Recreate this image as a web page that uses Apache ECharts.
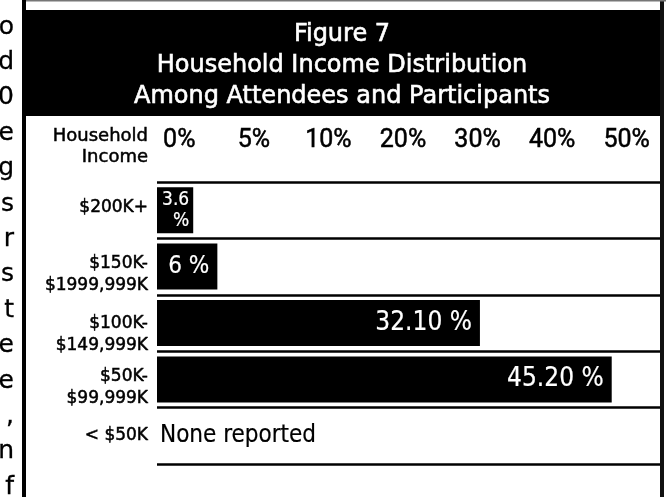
<!DOCTYPE html>
<html>
<head>
<meta charset="utf-8">
<script src="https://cdn.jsdelivr.net/npm/echarts@6/dist/echarts.min.js"></script>
<style>
html,body{margin:0;padding:0;background:#fff;}
#chart{width:666px;height:497px;}
</style>
</head>
<body>
<div id="chart"></div>
<script>
// ---- data ----
const categories = ['$200K+', '$150K-\n$1999,999K', '$100K-\n$149,999K', '$50K-\n$99,999K', '< $50K'];
const values = [3.6, 6, 32.1, 45.2, 0];
const valueLabels = ['3.6\n%', '6 %', '32.10 %', '45.20 %', 'None reported'];
const tickLabels = ['0%', '5%', '10%', '20%', '30%', '40%', '50%'];
const titleLines = ['Figure 7', 'Household Income Distribution', 'Among Attendees and Participants'];
const headerText = 'Household\nIncome';
const sideLetters = ['o', 'd', '0', 'e', 'g', 's', 'r', 's', 't', 'e', 'e', ',', 'n', 'f'];

const chart = echarts.init(document.getElementById('chart'), null, {renderer: 'canvas'});

const labelFont = 'DejaVu Sans Condensed, DejaVu Sans, sans-serif';
const labelSizes = [19, 24, 26, 26, 24];
const labelShift = [-3, 8, 12, 8, 0];   // vertical nudges of category labels (layout only)
const BW = 0.5; // slight emboldening stroke

const seriesData = values.map((v, i) => ({
  value: v,
  label: i === values.length - 1 ? {
    show: true, position: 'right', distance: 3, color: '#000',
    textBorderColor: '#000', textBorderWidth: 0.2,
    fontSize: labelSizes[i], formatter: valueLabels[i]
  } : {
    show: true, position: 'insideRight', distance: i === 0 ? 4 : 8, color: '#fff',
    textBorderColor: '#fff', textBorderWidth: 0.2,
    fontSize: labelSizes[i], lineHeight: 21, align: 'right', formatter: valueLabels[i]
  }
}));

const baseRich = {color: '#000', fontSize: 17, lineHeight: 22, fontFamily: 'DejaVu Sans',
                  textBorderColor: '#000', textBorderWidth: BW, align: 'right'};
const rich = {};
labelShift.forEach((d, i) => {
  rich['p' + i] = Object.assign({}, baseRich, {
    padding: d >= 0 ? [d * 2, 0, 0, 0] : [0, 0, -d * 2, 0]
  });
});

const graphics = [
  {type: 'rect', shape: {x: 26, y: 10, width: 636, height: 106}, style: {fill: '#000'}, z: 0},
  {type: 'rect', shape: {x: 22, y: 0, width: 4, height: 497}, style: {fill: '#000'}, z: 0},
  {type: 'rect', shape: {x: 660, y: 0, width: 4, height: 497}, style: {fill: '#111'}, z: 0},
  {type: 'rect', shape: {x: 26, y: 0, width: 640, height: 1.5}, style: {fill: '#777'}, z: 0}
];
sideLetters.forEach((ch, i) => {
  graphics.push({
    type: 'text', x: 14, y: 35 + i * 35.4 - 8,
    style: {text: ch, fontSize: 25, fontFamily: 'DejaVu Sans', fill: '#000',
            stroke: '#000', lineWidth: 0.3, align: 'right', verticalAlign: 'middle'}
  });
});

chart.setOption({
  backgroundColor: '#fff',
  animation: false,
  title: {
    text: titleLines.join('\n'),
    left: 342, top: 19, padding: 0, textAlign: 'center',
    textStyle: {color: '#fff', fontSize: 24, fontWeight: 'normal', fontFamily: 'DejaVu Sans', lineHeight: 31,
                textBorderColor: '#fff', textBorderWidth: 0.6}
  },
  graphic: graphics,
  grid: [
    {left: 157, width: 503, top: 182, height: 282, containLabel: false},
    {left: 142, width: 522, top: 182, height: 282, containLabel: false}
  ],
  xAxis: [
    {type: 'value', gridIndex: 0, min: 0, max: 50, show: false},
    {type: 'category', gridIndex: 1, position: 'top', data: tickLabels,
     axisLine: {show: false}, axisTick: {show: false}, splitLine: {show: false},
     axisLabel: {margin: 29, color: '#000', fontSize: 25, fontFamily: 'Roboto',
                 textBorderColor: '#000', textBorderWidth: BW}}
  ],
  yAxis: [
    {type: 'category', gridIndex: 0, inverse: true, data: categories,
     axisLine: {show: false}, axisTick: {show: false},
     splitLine: {show: true, lineStyle: {color: '#000', width: 2.5}},
     axisLabel: {margin: 9, color: '#000', fontSize: 17, lineHeight: 22, fontFamily: 'DejaVu Sans',
                 textBorderColor: '#000', textBorderWidth: BW, rich: rich,
                 formatter: function (val, idx) {
                   return String(val).split('\n').map(ln => '{p' + idx + '|' + ln + '}').join('\n');
                 }},
     name: headerText, nameLocation: 'start', nameGap: 14,
     nameTextStyle: {color: '#000', fontSize: 18, lineHeight: 21, fontFamily: 'DejaVu Sans',
                     textBorderColor: '#000', textBorderWidth: BW,
                     align: 'right', verticalAlign: 'bottom', padding: [0, 9, 0, 0]}},
    {type: 'value', gridIndex: 1, show: false}
  ],
  series: [{
    type: 'bar', xAxisIndex: 0, yAxisIndex: 0,
    data: seriesData, barWidth: 46,
    itemStyle: {color: '#000'},
    label: {fontFamily: labelFont}
  }]
});
</script>
</body>
</html>
